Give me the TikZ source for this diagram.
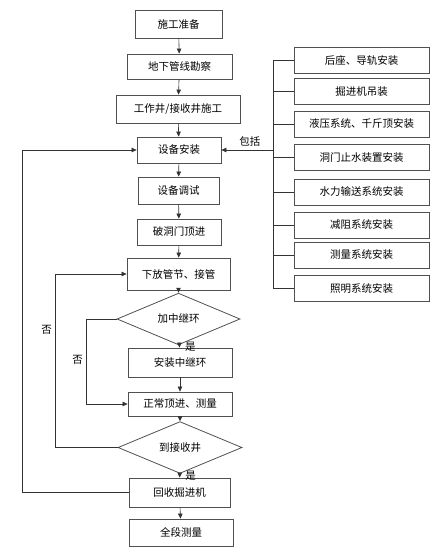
\documentclass[tikz,border=0pt]{standalone}
\usepackage{fontspec}
\setmainfont{Noto Sans CJK SC}
\usepackage{xcolor}
\usepackage{tikz}
\usetikzlibrary{shapes,arrows.meta}
\definecolor{framegray}{RGB}{80,80,80}
\definecolor{linegray}{RGB}{50,50,50}

\begin{document}
\begin{tikzpicture}[
    x=1pt, y=-1pt,
    font=\fontsize{10.5}{12}\selectfont,
    block/.style={rectangle, draw=framegray, thick, text centered, inner sep=1pt},
    decision/.style={diamond, draw=framegray, thick, text centered, inner sep=0pt},
    part/.style={rectangle, draw=framegray, thick, text centered, minimum width=135pt, minimum height=26pt, inner sep=1pt},
    arrow/.style={draw=linegray, semithick, -{Triangle[length=5pt,width=4.5pt]}},
    link/.style={draw=linegray, semithick}
]
\useasboundingbox (0,0) rectangle (442,554);

% main column
\node[block, minimum width=87pt, minimum height=28pt] (prep) at (178.5,24) {施工准备};
\node[block, minimum width=105pt, minimum height=25pt] (survey) at (179.5,66.5) {地下管线勘察};
\node[block, minimum width=124pt, minimum height=28pt] (shaft) at (178,109) {工作井/接收井施工};
\node[block, minimum width=84pt, minimum height=26pt] (install) at (179,150) {设备安装};
\node[block, minimum width=81pt, minimum height=27pt] (debug) at (178.5,190.5) {设备调试};
\node[block, minimum width=84pt, minimum height=26pt] (breakin) at (179,232) {破洞门顶进};
\node[block, minimum width=103pt, minimum height=32pt] (lower) at (178.5,274) {下放管节、接管};
\node[decision, minimum width=123pt, minimum height=32pt] (relay) at (178.5,319) {加中继环};
\node[block, minimum width=104pt, minimum height=29pt] (relayset) at (180,362.5) {安装中继环};
\node[block, minimum width=104pt, minimum height=24pt] (jack) at (180,404) {正常顶进、测量};
\node[decision, minimum width=124pt, minimum height=31pt] (arrive) at (180,447.5) {到接收井};
\node[block, minimum width=101pt, minimum height=29pt] (recover) at (179.5,492.5) {回收掘进机};
\node[block, minimum width=104pt, minimum height=27pt] (final) at (181,532.5) {全段测量};

% parts of the installation
\node[part] (seat) at (361.5,60.5) {后座、导轨安装};
\node[part] (hoist) at (361.5,91.5) {掘进机吊装};
\node[part] (hydro) at (361.5,124) {液压系统、千斤顶安装};
\node[part] (seal) at (361.5,157.5) {洞门止水装置安装};
\node[part] (water) at (361.5,192) {水力输送系统安装};
\node[part] (drag) at (361.5,225) {减阻系统安装};
\node[part] (measure) at (361.5,255) {测量系统安装};
\node[part] (light) at (361.5,288.5) {照明系统安装};
\coordinate (bus) at (273,150);

\draw[arrow] (prep) -- (survey);
\draw[arrow] (survey) -- (shaft);
\draw[arrow] (shaft) -- (install);
\draw[arrow] (install) -- (debug);
\draw[arrow] (debug) -- (breakin);
\draw[arrow] (breakin) -- (lower);
\draw[arrow] (lower) -- (relay);
\draw[arrow] (relay) -- node[right, xshift=2pt] {是} (relayset);
\draw[arrow] (relayset) -- (jack);
\draw[arrow] (jack) -- (arrive);
\draw[arrow] (arrive) -- node[right, xshift=2pt] {是} (recover);
\draw[arrow] (recover) -- (final);

% loops back
\draw[arrow] (relay.west) -- ++(-30,0) |- node[pos=0.24, left] {否} (jack.west);
\draw[arrow] (arrive.west) -- ++(-62,0) |- node[pos=0.34, left] {否} (lower.west);
\draw[arrow] (recover.west) -- ++(-106,0) |- (install.west);

% bracket
\draw[link] (seat.west -| bus) -- (light.west -| bus);
\draw[link] (seat.west) -- (seat.west -| bus);
\draw[link] (hoist.west) -- (hoist.west -| bus);
\draw[link] (hydro.west) -- (hydro.west -| bus);
\draw[link] (seal.west) -- (seal.west -| bus);
\draw[link] (water.west) -- (water.west -| bus);
\draw[link] (drag.west) -- (drag.west -| bus);
\draw[link] (measure.west) -- (measure.west -| bus);
\draw[link] (light.west) -- (light.west -| bus);
\draw[arrow] (bus) -- node[above, pos=0.45] {包括} (install);

\end{tikzpicture}
\end{document}
